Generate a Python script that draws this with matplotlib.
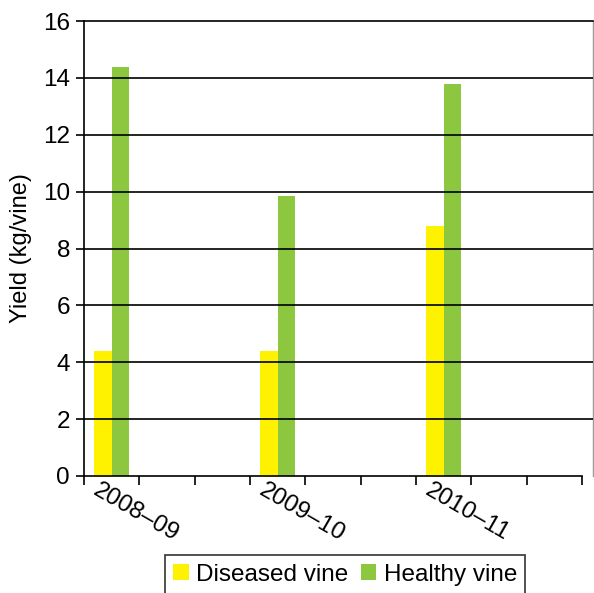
import matplotlib
matplotlib.use("Agg")
import numpy as np
import matplotlib.pyplot as plt
from matplotlib.transforms import ScaledTranslation, blended_transform_factory

# Values.
seasons = ["2008\u201309", "2009\u201310", "2010\u201311"]
diseased = [4.4, 4.4, 8.8]
healthy = [14.4, 9.85, 13.8]
series_names = ["Diseased vine", "Healthy vine"]
yticks = [0, 2, 4, 6, 8, 10, 12, 14, 16]

n_slots = 9            # the category axis has 9 slots, seasons on every 3rd
season_slots = [0, 3, 6]
c_yellow = "#FFF200"
c_green = "#8DC63F"

plt.rcParams['font.family'] = ['Liberation Sans', 'DejaVu Sans']

fig = plt.figure(figsize=(5.94, 5.93), dpi=100)
ax = fig.add_axes([84/594, 1-476/593, (593-84)/594, (476-21)/593])

# Bars.
w = 0.32
xpos = np.array(season_slots, dtype=float)
b1 = ax.bar(xpos - w/2, diseased, w, color=c_yellow, zorder=2)
b2 = ax.bar(xpos + w/2, healthy, w, color=c_green, zorder=2)

# Axes setup.
ax.set_ylim(0, 16)
ax.set_xlim(-0.5, n_slots - 0.5 + 0.2)
ax.set_yticks(yticks)
ax.set_yticklabels([str(v) for v in yticks], fontsize=17.5)
ax.set_xticks(np.arange(n_slots + 1) - 0.5)
ax.set_xticklabels([])

for y in yticks[1:-1]:
    ax.axhline(y, color='black', lw=1.2, zorder=3)

ax.spines['top'].set_linewidth(1.2)
ax.spines['left'].set_linewidth(1.2)
ax.spines['bottom'].set_linewidth(1.2)
ax.spines['bottom'].set_bounds(-0.5, n_slots - 0.5)
ax.spines['right'].set_color('0.6')
ax.spines['right'].set_linewidth(1.0)
for loc in ['top', 'left', 'bottom']:
    ax.spines[loc].set_zorder(4)

ax.tick_params(axis='y', direction='out', length=6, width=1.2, pad=4)
ax.tick_params(axis='x', direction='out', length=6.5, width=1.2)

# Rotated season labels.
trans = blended_transform_factory(ax.transData, ax.transAxes)
offset = ScaledTranslation(-11/100, -3/100, fig.dpi_scale_trans)
for slot, lab in zip(season_slots, seasons):
    ax.text(slot, 0, lab, transform=trans + offset, rotation=-30,
            rotation_mode='anchor', ha='left', va='top', fontsize=17.5)

ax.set_ylabel("Yield (kg/vine)", fontsize=17)
ax.yaxis.set_label_coords(-0.102, 0.5)

# Legend.
leg = fig.legend([b1, b2], series_names, loc='upper center',
                 bbox_to_anchor=(345/594, 1-555/593), ncol=2,
                 fontsize=17.5, frameon=True, fancybox=False,
                 handlelength=0.65, handleheight=0.65, handletextpad=0.3,
                 columnspacing=0.5, borderpad=0.35, borderaxespad=0)
leg.get_frame().set_edgecolor('black')
leg.get_frame().set_linewidth(1.2)

fig.savefig("out.png", dpi=100)
